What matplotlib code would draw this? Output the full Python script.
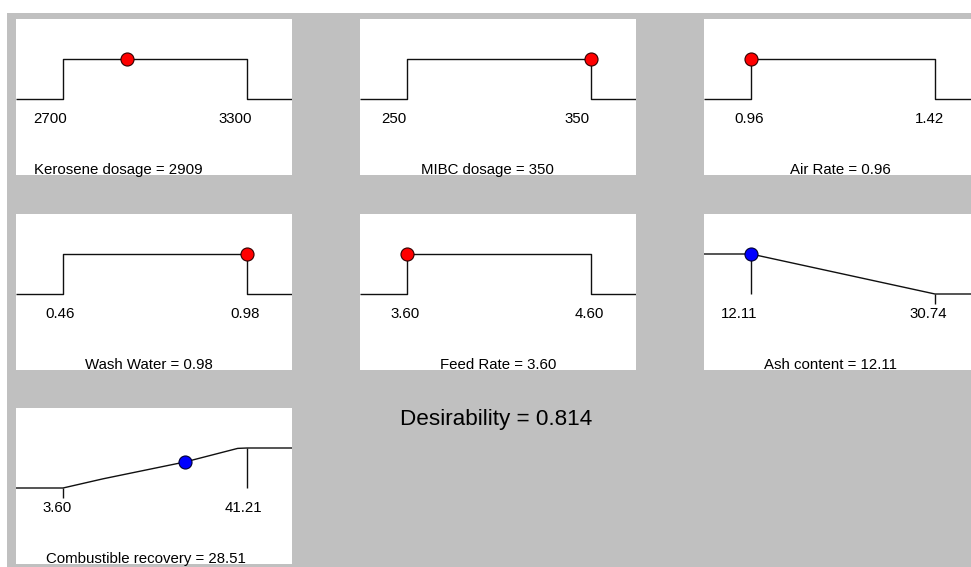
import matplotlib
matplotlib.use("Agg")
import matplotlib.pyplot as plt

# ---------------- data ----------------
factor_names = ["Kerosene dosage", "MIBC dosage", "Air Rate", "Wash Water", "Feed Rate"]
factor_low = [2700, 250, 0.96, 0.46, 3.60]
factor_high = [3300, 350, 1.42, 0.98, 4.60]
factor_setting = [2909, 350, 0.96, 0.98, 3.60]
factor_low_labels = ["2700", "250", "0.96", "0.46", "3.60"]
factor_high_labels = ["3300", "350", "1.42", "0.98", "4.60"]
factor_setting_labels = ["2909", "350", "0.96", "0.98", "3.60"]

response_names = ["Ash content", "Combustible recovery"]
response_low = [12.11, 3.60]
response_high = [30.74, 41.21]
response_low_labels = ["12.11", "3.60"]
response_high_labels = ["30.74", "41.21"]
# desirability curves
ash_curve_x = [12.11, 30.74]
ash_curve_d = [1.0, 0.0]
rec_curve_x = [3.60, 11.8, 28.51, 39.3, 41.21]
rec_curve_d = [0.0, 0.23, 0.65, 0.99, 1.0]
response_curves_x = [ash_curve_x, rec_curve_x]
response_curves_d = [ash_curve_d, rec_curve_d]
response_setting = [12.11, 28.51]
response_setting_d = [1.0, 0.65]
response_setting_labels = ["12.11", "28.51"]

overall_desirability = "0.814"

# ---------------- layout ----------------
W, H = 971, 567
fig = plt.figure(figsize=(W / 100, H / 100), dpi=100)
fig.patch.set_facecolor("white")
plt.rcParams["font.family"] = ["Liberation Sans", "DejaVu Sans"]

def px_rect(x, y, w, h):
    return [x / W, 1 - (y + h) / H, w / W, h / H]

bg = fig.add_axes(px_rect(7, 13, W - 7, H - 13), zorder=-10)
bg.set_facecolor("#c0c0c0")
bg.set_xticks([]); bg.set_yticks([])
for s in bg.spines.values():
    s.set_visible(False)

PW, PH = 276, 156
X_LO, X_HI = 47, 231     # pixel positions of low/high limits in a panel
Y_D0, Y_D1 = 80, 40      # pixel rows of desirability 0 and 1
col_x = [16, 360, 704]
row_y = [19, 214, 408]
panel_pos = [(0, 0), (1, 0), (2, 0), (0, 1), (1, 1), (2, 1), (0, 2)]
label_offsets = [(-13, -12), (-13, -14), (-2, -6), (-3, -2), (-2, -2), (-12, -7), (-6, -4)]
title_cx = [102, 127, 136, 133, 138, 127, 130]
LABEL_Y = 100
TITLE_Y = 151
FS = 10.8
LINE = dict(color="#101010", lw=1.0, solid_capstyle="butt")

def make_axes(i, lo, hi):
    c, r = panel_pos[i]
    ax = fig.add_axes(px_rect(col_x[c], row_y[r], PW, PH))
    ax.set_facecolor("white")
    for s in ax.spines.values():
        s.set_visible(False)
    ax.set_xticks([]); ax.set_yticks([])
    span = (hi - lo) / (X_HI - X_LO)
    ax.set_xlim(lo - X_LO * span, lo + (PW - X_LO) * span)
    unit = Y_D0 - Y_D1
    ax.set_ylim(-(PH - Y_D0) / unit, 1 + Y_D1 / unit)
    return ax

def add_labels(ax, i, lo, hi, lo_lab, hi_lab, title):
    d_lab = (Y_D0 - LABEL_Y) / (Y_D0 - Y_D1)
    ox1, ox2 = label_offsets[i]
    ax.annotate(lo_lab, xy=(lo, d_lab), xytext=(ox1, 0), textcoords="offset pixels",
                ha="center", va="center", fontsize=FS, annotation_clip=False)
    ax.annotate(hi_lab, xy=(hi, d_lab), xytext=(ox2, 0), textcoords="offset pixels",
                ha="center", va="center", fontsize=FS, annotation_clip=False)
    ax.text(title_cx[i] / PW, 1 - TITLE_Y / PH, title, transform=ax.transAxes,
            ha="center", va="center", fontsize=FS, clip_on=False)

# factor panels
for i in range(len(factor_names)):
    lo, hi = factor_low[i], factor_high[i]
    ax = make_axes(i, lo, hi)
    x0, x1 = ax.get_xlim()
    ax.plot([x0, lo, lo, hi, hi, x1], [0, 0, 1, 1, 0, 0], **LINE)
    ax.plot([factor_setting[i]], [1], "o", ms=9.4, mfc="#ff0000", mec="#300000",
            mew=0.8, zorder=5, clip_on=False)
    add_labels(ax, i, lo, hi, factor_low_labels[i], factor_high_labels[i],
               f"{factor_names[i]} = {factor_setting_labels[i]}")

# response panels
TICK = 10 / (Y_D0 - Y_D1)
for j in range(len(response_names)):
    i = len(factor_names) + j
    lo, hi = response_low[j], response_high[j]
    ax = make_axes(i, lo, hi)
    x0, x1 = ax.get_xlim()
    cx, cd = response_curves_x[j], response_curves_d[j]
    ax.plot([x0] + cx + [x1], [cd[0]] + cd + [cd[-1]], **LINE)
    # full-height line where d = 1, short tick where d = 0
    for xv, dv in zip([cx[0], cx[-1]], [cd[0], cd[-1]]):
        if dv >= 1:
            ax.plot([xv, xv], [1, 0], **LINE)
        else:
            ax.plot([xv, xv], [0, -TICK], **LINE)
    ax.plot([response_setting[j]], [response_setting_d[j]], "o", ms=9.4,
            mfc="#0000ff", mec="#000030", mew=0.8, zorder=5, clip_on=False)
    add_labels(ax, i, lo, hi, response_low_labels[j], response_high_labels[j],
               f"{response_names[j]} = {response_setting_labels[j]}")

fig.text(400 / W, 1 - 420 / H, f"Desirability = {overall_desirability}",
         ha="left", va="center", fontsize=16.2)

fig.savefig("out.png", dpi=100)
